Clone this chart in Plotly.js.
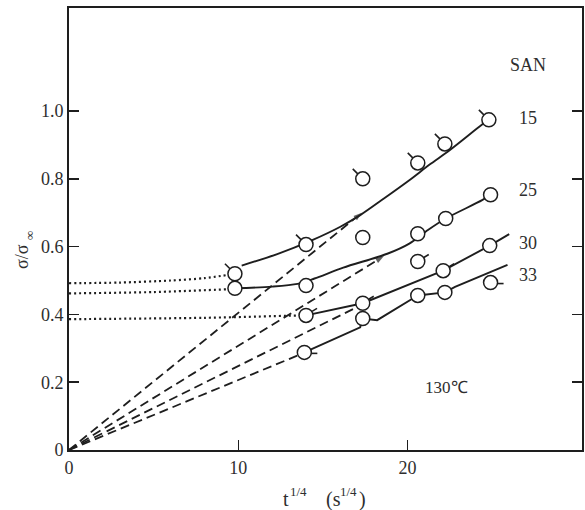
<!DOCTYPE html>
<html>
<head>
<meta charset="utf-8">
<script src="https://cdn.plot.ly/plotly-3.0.1.min.js"></script>
<style>html,body{margin:0;padding:0;background:#fff;}#chart{width:585px;height:510px;}</style>
</head>
<body>
<div id="chart"></div>
<script>
// ---- tick labels ----
const xTickVals = [0, 10, 20];
const xTickText = ['0', '10', '20'];
const yTickVals = [0, 0.2, 0.4, 0.6, 0.8, 1.0];
const yTickText = ['0', '0.2', '0.4', '0.6', '0.8', '1.0'];

// ---- measured points (t^1/4, sigma/sigma_inf) ----
const san15X = [9.8, 14.0, 17.35, 20.6, 22.2, 24.8];
const san15Y = [0.52, 0.606, 0.80, 0.847, 0.903, 0.974];
const san25X = [9.8, 14.0, 17.35, 20.6, 22.25, 24.9];
const san25Y = [0.477, 0.485, 0.627, 0.638, 0.683, 0.753];
const san30X = [14.0, 17.35, 20.6, 22.1, 24.85];
const san30Y = [0.397, 0.433, 0.556, 0.529, 0.603];
const san33X = [13.9, 17.35, 20.6, 22.2, 24.9];
const san33Y = [0.288, 0.388, 0.456, 0.465, 0.494];

// ---- solid fitted curves ----
const fit15X = [10.2, 12.3, 14.4, 16.0, 17.2, 18.6, 20.1, 21.3, 22.5, 24.4, 24.8];
const fit15Y = [0.544, 0.578, 0.62, 0.658, 0.693, 0.742, 0.796, 0.842, 0.885, 0.96, 0.974];
const fit25X = [9.8, 12.0, 13.5, 14.5, 16.2, 18.8, 20.1, 21.2, 22.25, 24.4, 24.9];
const fit25Y = [0.477, 0.482, 0.49, 0.506, 0.538, 0.579, 0.609, 0.649, 0.683, 0.737, 0.753];
const fit30X = [14.0, 17.35, 22.1, 24.85, 26.0];
const fit30Y = [0.397, 0.433, 0.529, 0.603, 0.637];
const fit33X = [13.9, 17.2, 17.35, 18.2, 20.4, 20.6, 22.2, 22.8, 25.9];
const fit33Y = [0.288, 0.362, 0.388, 0.383, 0.45, 0.456, 0.465, 0.481, 0.546];

// ---- dotted short-time extrapolations ----
const dotAX = [0, 3, 6, 8, 9.3];
const dotAY = [0.492, 0.494, 0.5, 0.507, 0.516];
const dotBX = [0, 5, 9.3];
const dotBY = [0.462, 0.466, 0.474];
const dotCX = [0, 8, 13.6];
const dotCY = [0.386, 0.39, 0.397];

// ---- dashed lines from origin ----
const dash1X = [0, 17.3];  const dash1Y = [0, 0.70];
const dash2X = [0, 18.6];  const dash2Y = [0, 0.572];
const dash3X = [0, 17.35]; const dash3Y = [0, 0.43];
const dash4X = [0, 13.9];  const dash4Y = [0, 0.287];

// ---- labels ----
const seriesLabels = ['SAN', '15', '25', '30', '33'];
const seriesLabelX = [27.1, 27.1, 27.1, 27.1, 27.1];
const seriesLabelY = [1.136, 0.98, 0.767, 0.61, 0.516];
const tempLabel = '130℃';
const tempLabelX = 22.3, tempLabelY = 0.183;
// axis titles split into main glyphs and raised / lowered parts
const xTitleParts = ['t', '1/4', '(s', '1/4', ')'];
const xTitleRaised = [false, true, false, true, false];
const yTitleMain = 'σ/σ';
const yTitleSub = '∞';

const INK = '#1e1e1e';
const TXT = '#2e2e2e';
const FONT = 'Liberation Serif, Times New Roman, serif';

function lineTrace(x, y, dash, shape, w) {
  return {x, y, type: 'scatter', mode: 'lines', hoverinfo: 'skip', showlegend: false,
    line: {color: INK, width: w, dash: dash, shape: shape || 'linear', smoothing: 0.8}};
}
function dashArrow(x, y) {
  return {x, y, type: 'scatter', mode: 'lines+markers', hoverinfo: 'skip', showlegend: false,
    line: {color: INK, width: 1.8, dash: '9px,5px'},
    marker: {symbol: ['circle', 'arrow'], size: [0, 9], angleref: 'previous', color: INK, line: {width: 0}}};
}
function dashPlain(x, y) {
  return {x, y, type: 'scatter', mode: 'lines', hoverinfo: 'skip', showlegend: false,
    line: {color: INK, width: 1.8, dash: '9px,5px'}};
}
function pts(x, y) {
  return {x, y, type: 'scatter', mode: 'markers', hoverinfo: 'skip', showlegend: false,
    marker: {symbol: 'circle', size: 14, color: '#fff', line: {color: INK, width: 1.5}}};
}

const traces = [
  lineTrace(dotAX, dotAY, '2px,3px', 'spline', 2.2),
  lineTrace(dotBX, dotBY, '2px,3px', 'spline', 2.2),
  lineTrace(dotCX, dotCY, '2px,3px', 'spline', 2.2),
  dashArrow(dash1X, dash1Y),
  dashArrow(dash2X, dash2Y),
  dashPlain(dash3X, dash3Y),
  dashPlain(dash4X, dash4Y),
  lineTrace(fit15X, fit15Y, 'solid', 'spline', 1.9),
  lineTrace(fit25X, fit25Y, 'solid', 'spline', 1.9),
  lineTrace(fit30X, fit30Y, 'solid', 'linear', 1.9),
  lineTrace(fit33X, fit33Y, 'solid', 'linear', 1.9),
  pts(san15X, san15Y),
  pts(san25X, san25Y),
  pts(san30X, san30Y),
  pts(san33X, san33Y)
];

// small "flag" ticks on the open circles: anchored at the data point, sized in pixels
function flags(xs, ys, px0, py0, px1, py1) {
  return xs.map((x, i) => ({type: 'line', xref: 'x', yref: 'y',
    xsizemode: 'pixel', ysizemode: 'pixel', xanchor: x, yanchor: ys[i],
    x0: px0, y0: py0, x1: px1, y1: py1, line: {color: INK, width: 1.6}, layer: 'above'}));
}
const shapes = []
  .concat(flags(san15X, san15Y, -5, 5, -10, 10))
  .concat(flags(san30X.slice(0, 4), san30Y.slice(0, 4), 6, 4, 11, 7))
  .concat(flags([san33X[0], san33X[4]], [san33Y[0], san33Y[4]], 7, -1, 13, -1));

const annotations = [];
seriesLabels.forEach((t, i) => annotations.push({x: seriesLabelX[i], y: seriesLabelY[i], xref: 'x', yref: 'y',
  text: t, showarrow: false, xanchor: 'center', yanchor: 'middle', font: {family: FONT, size: 18, color: TXT}}));
annotations.push({x: tempLabelX, y: tempLabelY, xref: 'x', yref: 'y', text: tempLabel, showarrow: false,
  xanchor: 'center', yanchor: 'middle', font: {family: FONT, size: 17, color: TXT}});

// x-axis title pieces (left edges in pixels relative to the plot's left edge)
const xTitleShift = [213, 220, 256, 270, 289];
xTitleParts.forEach((t, i) => annotations.push({x: 0, y: 0, xref: 'paper', yref: 'paper',
  xshift: xTitleShift[i], yshift: xTitleRaised[i] ? -41 : -49, text: t, showarrow: false,
  xanchor: 'left', yanchor: 'middle', borderpad: 0,
  font: {family: FONT, size: xTitleRaised[i] ? 13 : 20, color: TXT}}));

// y-axis title (rotated)
annotations.push({x: 0, y: 0.5, xref: 'paper', yref: 'paper', xshift: -47, yshift: -28, text: yTitleMain,
  textangle: -90, showarrow: false, xanchor: 'center', yanchor: 'middle', borderpad: 0,
  font: {family: FONT, size: 18, color: TXT}});
annotations.push({x: 0, y: 0.5, xref: 'paper', yref: 'paper', xshift: -40, yshift: -7, text: yTitleSub,
  textangle: -90, showarrow: false, xanchor: 'center', yanchor: 'middle', borderpad: 0,
  font: {family: FONT, size: 13, color: TXT}});

const layout = {
  width: 585, height: 510,
  margin: {l: 69, r: 3, t: 8, b: 60},
  paper_bgcolor: '#fff', plot_bgcolor: '#fff',
  showlegend: false,
  font: {family: FONT, color: TXT, size: 17},
  xaxis: {
    range: [0, 30.3], tickvals: xTickVals, ticktext: xTickText,
    ticks: 'inside', ticklen: 10, tickwidth: 1.6, tickcolor: INK,
    showline: true, linecolor: INK, linewidth: 2, mirror: true,
    showgrid: false, zeroline: false, automargin: false,
    tickfont: {family: FONT, size: 18, color: TXT}
  },
  yaxis: {
    range: [0, 1.304], tickvals: yTickVals, ticktext: yTickText,
    ticks: 'inside', ticklen: 10, tickwidth: 1.6, tickcolor: INK,
    showline: true, linecolor: INK, linewidth: 2, mirror: 'ticks',
    showgrid: false, zeroline: false, automargin: false,
    tickfont: {family: FONT, size: 18, color: TXT}
  },
  shapes: shapes,
  annotations: annotations
};

Plotly.newPlot('chart', traces, layout, {displayModeBar: false, staticPlot: true});
</script>
</body>
</html>
